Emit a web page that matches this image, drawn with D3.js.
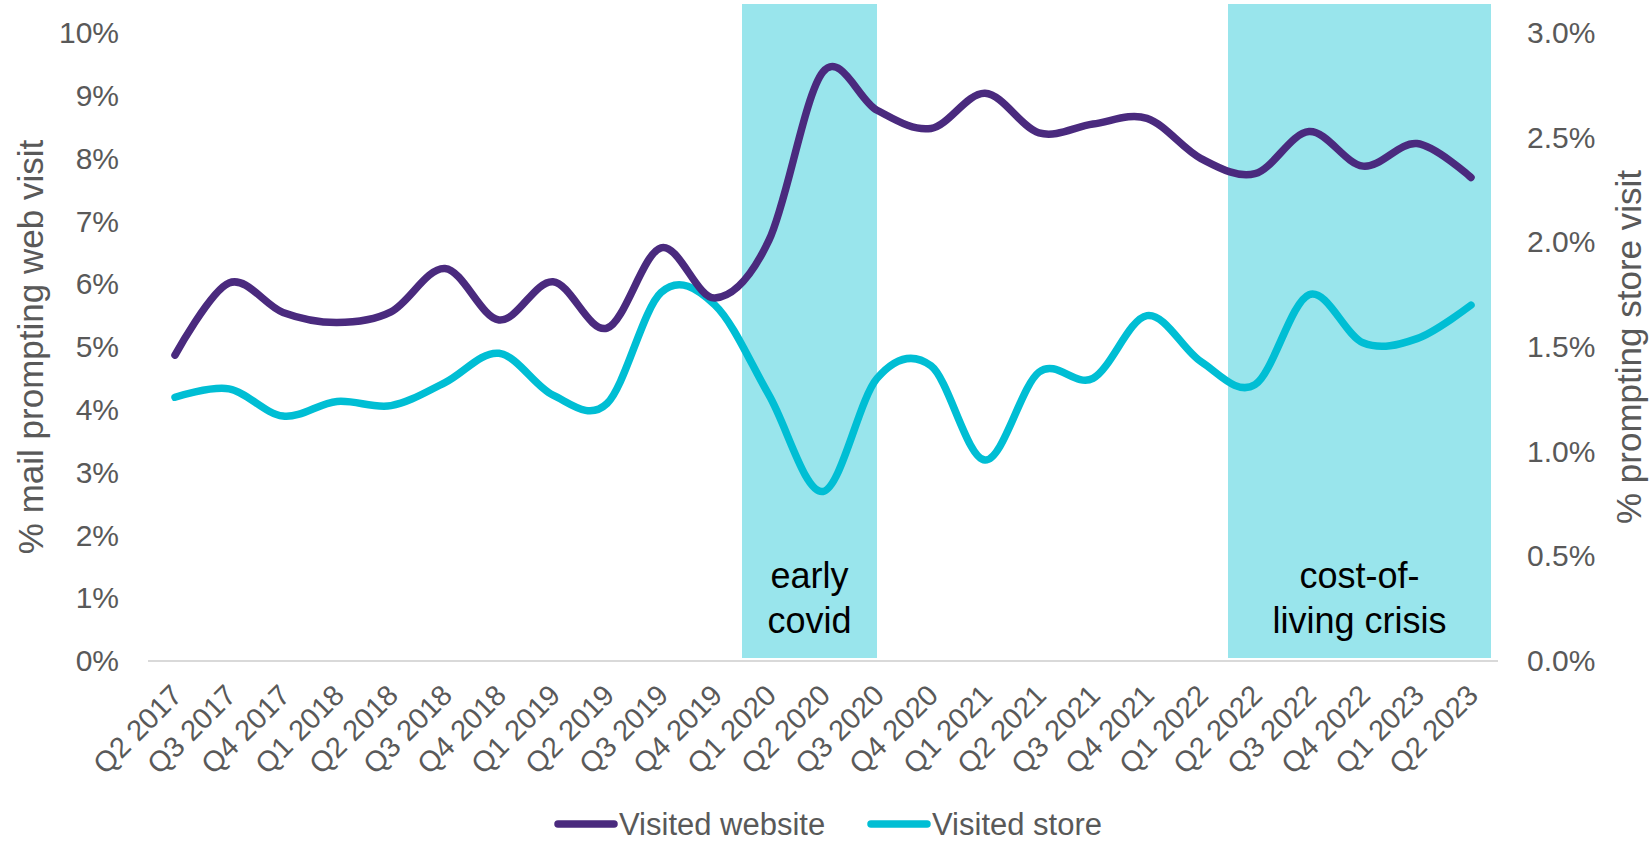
<!DOCTYPE html>
<html>
<head>
<meta charset="utf-8">
<script src="https://cdn.jsdelivr.net/npm/d3@7"></script>
<style>
  body { margin: 0; background: #fff; }
  text { font-family: "Liberation Sans", Arial, sans-serif; }
</style>
</head>
<body>
<svg id="svg1" width="1651" height="843"></svg>
<script>
var quarters = ['Q2 2017', 'Q3 2017', 'Q4 2017', 'Q1 2018', 'Q2 2018', 'Q3 2018', 'Q4 2018',
  'Q1 2019', 'Q2 2019', 'Q3 2019', 'Q4 2019', 'Q1 2020', 'Q2 2020', 'Q3 2020', 'Q4 2020',
  'Q1 2021', 'Q2 2021', 'Q3 2021', 'Q4 2021', 'Q1 2022', 'Q2 2022', 'Q3 2022', 'Q4 2022',
  'Q1 2023', 'Q2 2023'];

// % of mail prompting a web visit (left axis)
var visitedWebsite = [4.87, 6.02, 5.55, 5.39, 5.56, 6.25, 5.43, 6.04, 5.30, 6.58, 5.78, 6.70,
  9.38, 8.77, 8.48, 9.04, 8.41, 8.55, 8.64, 8.00, 7.76, 8.43, 7.88, 8.24, 7.70];

// % of mail prompting a store visit (right axis)
var visitedStore = [1.26, 1.30, 1.17, 1.24, 1.22, 1.33, 1.47, 1.27, 1.23, 1.76, 1.70, 1.27,
  0.81, 1.35, 1.41, 0.96, 1.38, 1.35, 1.65, 1.43, 1.32, 1.75, 1.52, 1.54, 1.70];

var leftTicks = [0, 1, 2, 3, 4, 5, 6, 7, 8, 9, 10];
var rightTicks = [0, 0.5, 1.0, 1.5, 2.0, 2.5, 3.0];

// shaded periods
var periodNames = [['early', 'covid'], ['cost-of-', 'living crisis']];
var periodFrom = ['Q1 2020', 'Q2 2022'];
var periodTo = ['Q3 2020', 'Q2 2023'];
var periodToFrac = [0.5, 0.87];

var seriesNames = ['Visited website', 'Visited store'];
var seriesColors = ['#4a2a7e', '#00bed4'];

var svg = d3.select('#svg1');
var plot = {l: 148, r: 1498, t: 33, b: 661};
var grey = '#595959';

var x = d3.scaleBand().domain(quarters).range([plot.l, plot.r]);
var cx = function(q) { return x(q) + x.bandwidth() / 2; };
var yLeft = d3.scaleLinear().domain([0, 10]).range([plot.b, plot.t]);
var yRight = d3.scaleLinear().domain([0, 3]).range([plot.b, plot.t]);

// shaded bands
var bands = svg.append('g').attr('class', 'bands');
periodNames.forEach(function(name, i) {
  var x0 = x(periodFrom[i]);
  var x1 = x(periodTo[i]) + x.bandwidth() * periodToFrac[i];
  bands.append('rect')
    .attr('x', x0).attr('y', 4)
    .attr('width', x1 - x0).attr('height', plot.b - 3 - 4)
    .style('fill', '#99e5ec');
  var t = bands.append('text')
    .attr('text-anchor', 'middle')
    .style('font-size', '36px')
    .style('fill', '#000');
  name.forEach(function(line, j) {
    t.append('tspan')
      .attr('x', (x0 + x1) / 2)
      .attr('y', plot.b - 73 + j * 45)
      .text(line);
  });
});

// x axis line
svg.append('line')
  .attr('x1', plot.l).attr('x2', plot.r)
  .attr('y1', plot.b).attr('y2', plot.b)
  .style('stroke', '#d9d9d9').style('stroke-width', 2);

// x tick labels
svg.append('g').attr('class', 'x_labels')
  .selectAll('text')
  .data(quarters)
  .enter()
  .append('text')
    .attr('text-anchor', 'end')
    .attr('transform', function(d) { return 'translate(' + [cx(d) + 9, plot.b + 36] + ') rotate(-45)'; })
    .style('font-size', '29px')
    .style('fill', grey)
    .text(function(d) { return d; });

// left axis
var leftAxis = svg.append('g')
  .attr('transform', 'translate(' + plot.l + ',0)')
  .call(d3.axisLeft(yLeft).tickValues(leftTicks).tickSize(0).tickPadding(29)
    .tickFormat(function(d) { return d + '%'; }));
leftAxis.select('.domain').remove();
leftAxis.selectAll('text').style('font-size', '30px').style('fill', grey)
  .attr('font-family', null);

// right axis
var rightAxis = svg.append('g')
  .attr('transform', 'translate(' + plot.r + ',0)')
  .call(d3.axisRight(yRight).tickValues(rightTicks).tickSize(0).tickPadding(29)
    .tickFormat(function(d) { return d.toFixed(1) + '%'; }));
rightAxis.select('.domain').remove();
rightAxis.selectAll('text').style('font-size', '30px').style('fill', grey)
  .attr('font-family', null);

// axis titles
svg.append('text')
  .attr('transform', 'translate(' + [43, (plot.t + plot.b) / 2] + ') rotate(-90)')
  .attr('text-anchor', 'middle')
  .style('font-size', '35px').style('fill', grey)
  .text('% mail prompting web visit');

svg.append('text')
  .attr('transform', 'translate(' + [1641, (plot.t + plot.b) / 2] + ') rotate(-90)')
  .attr('text-anchor', 'middle')
  .style('font-size', '35px').style('fill', grey)
  .text('% prompting store visit');

// lines
var webLine = d3.line()
  .x(function(d, i) { return cx(quarters[i]); })
  .y(function(d) { return yLeft(d); })
  .curve(d3.curveCatmullRom.alpha(0));

var storeLine = d3.line()
  .x(function(d, i) { return cx(quarters[i]); })
  .y(function(d) { return yRight(d); })
  .curve(d3.curveCatmullRom.alpha(0));

svg.append('path')
  .datum(visitedStore)
  .attr('d', storeLine)
  .style('fill', 'none').style('stroke', seriesColors[1])
  .style('stroke-width', 7.5).style('stroke-linecap', 'round');

svg.append('path')
  .datum(visitedWebsite)
  .attr('d', webLine)
  .style('fill', 'none').style('stroke', seriesColors[0])
  .style('stroke-width', 7.5).style('stroke-linecap', 'round');

// legend
var legendX = [558, 871];
var legend = svg.append('g').attr('class', 'legend');
seriesNames.forEach(function(name, i) {
  legend.append('line')
    .attr('x1', legendX[i]).attr('x2', legendX[i] + 56)
    .attr('y1', 824).attr('y2', 824)
    .style('stroke', seriesColors[i]).style('stroke-width', 7.5)
    .style('stroke-linecap', 'round');
  legend.append('text')
    .attr('x', legendX[i] + 61).attr('y', 835)
    .style('font-size', '31px').style('fill', grey)
    .text(name);
});
</script>
</body>
</html>
